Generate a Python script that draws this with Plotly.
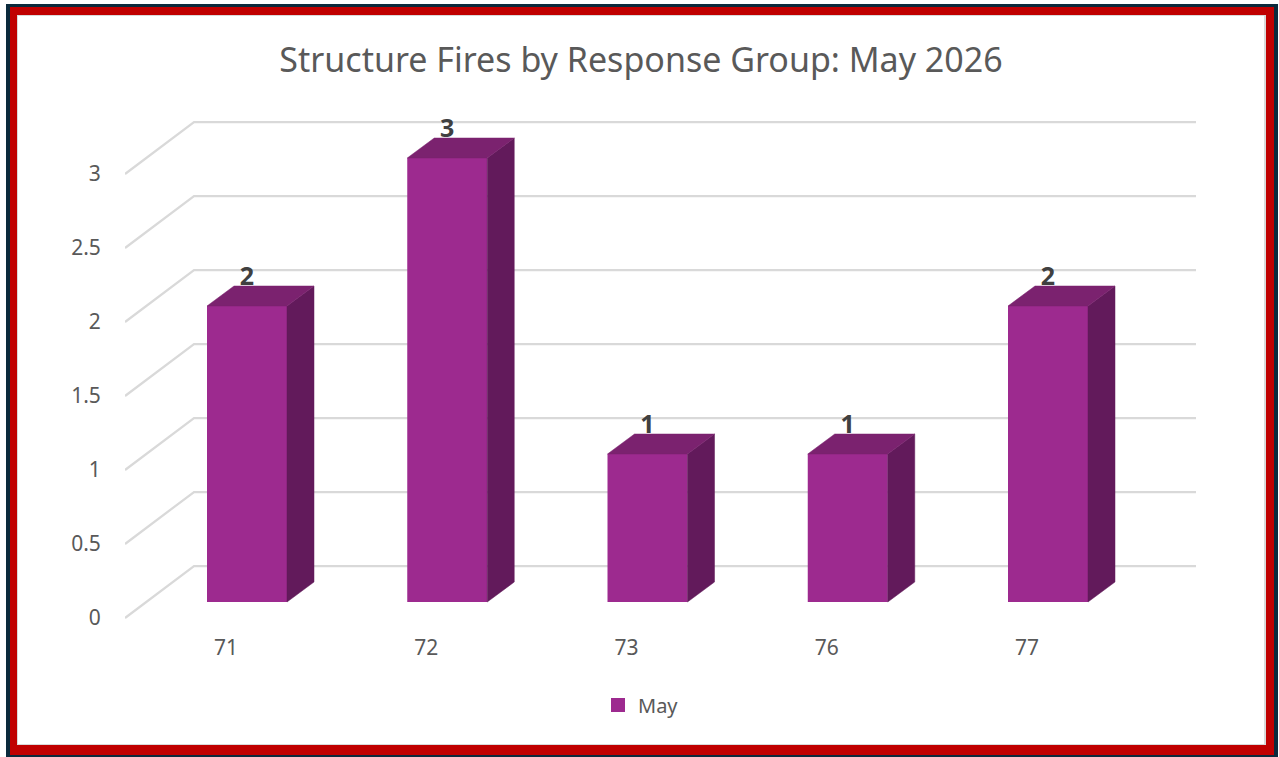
import plotly.graph_objects as go

categories = ["71", "72", "73", "76", "77"]
series_name = "May"
values = [2, 3, 1, 1, 2]
y_ticks = [0, 0.5, 1, 1.5, 2, 2.5, 3]
y_tick_labels = ["0", "0.5", "1", "1.5", "2", "2.5", "3"]
title_text = "Structure Fires by Response Group: May 2026"

W, H = 1279, 757
FRONT, TOP, SIDE = "#9D2A8F", "#7B226F", "#621A5B"
GRID = "#D9D9D9"
TXT = "#595959"
FONT = "Noto Sans"

# pixel geometry of the plot box
PL, PR, PT, PB = 125, 1196, 100, 625
UX, UY = 200.25, 148.0


def xr(origin):
    return [(PL - origin) / UX, (PR - origin) / UX]


def yr(origin):
    return [(origin - PB) / UY, (origin - PT) / UY]


idx = list(range(len(categories)))
fig = go.Figure()

# --- wall layer (x, y): grid lines
wall_dx_left = (125 - 226) / UX
wall_dx_back = (194 - 226) / UX
wall_dx_right = (1196 - 226) / UX
wall_dy = (618 - 566) / UY
for v in y_ticks:
    fig.add_trace(go.Scatter(
        x=[wall_dx_left, wall_dx_back, wall_dx_right],
        y=[v, v + wall_dy, v + wall_dy],
        mode="lines", line=dict(color=GRID, width=2.25),
        showlegend=False, hoverinfo="skip", xaxis="x", yaxis="y", cliponaxis=False))

# --- bar layer (x2, y2)
BAR_W = 80 / UX
DX = 27 / UX
DY = 20 / UY
fig.add_trace(go.Bar(
    x=idx, y=values, width=BAR_W, name=series_name,
    marker=dict(color=FRONT, line=dict(width=0)),
    xaxis="x2", yaxis="y2", hoverinfo="skip", showlegend=False))
fig.add_trace(go.Scatter(
    x=[None], y=[None], name=series_name, mode="markers",
    marker=dict(color=FRONT, size=14, symbol="square", line=dict(width=0)),
    xaxis="x2", yaxis="y2", hoverinfo="skip", showlegend=True))
for i, v in zip(idx, values):
    l, r = i - BAR_W / 2, i + BAR_W / 2
    fig.add_trace(go.Scatter(
        x=[r, r + DX, r + DX, r, r], y=[0, DY, v + DY, v, 0],
        mode="lines", fill="toself", fillcolor=SIDE, line=dict(width=0.5, color=SIDE),
        showlegend=False, hoverinfo="skip", xaxis="x2", yaxis="y2"))
    fig.add_trace(go.Scatter(
        x=[l, r, r + DX, l + DX, l], y=[v, v, v + DY, v + DY, v],
        mode="lines", fill="toself", fillcolor=TOP, line=dict(width=0.5, color=TOP),
        showlegend=False, hoverinfo="skip", xaxis="x2", yaxis="y2"))

fig.add_trace(go.Scatter(
    x=idx, y=[v + 27.5 / UY for v in values],
    text=[str(v) for v in values], mode="text", textposition="middle center",
    textfont=dict(family=FONT, size=25, color="#404040", weight="bold"),
    showlegend=False, hoverinfo="skip", xaxis="x2", yaxis="y2", cliponaxis=False))


def frame(x0, y0, x1, y1, color):
    return dict(type="rect", xref="paper", yref="paper", layer="below",
                x0=x0 / W, x1=x1 / W, y0=1 - y0 / H, y1=1 - y1 / H,
                fillcolor=color, line=dict(width=0))


fig.update_layout(
    autosize=False,
    width=W, height=H, margin=dict(l=0, r=0, t=0, b=0, pad=0, autoexpand=False),
    paper_bgcolor="white", plot_bgcolor="rgba(0,0,0,0)",
    font=dict(family=FONT, color=TXT, size=20),
    title=dict(text=title_text, x=641 / W, y=1 - 60 / H, xanchor="center", yanchor="middle",
               xref="paper", yref="paper",
               font=dict(family=FONT, size=34, color=TXT)),
    shapes=[frame(6, 4, 1278, 757, "#0B2A3C"),
            frame(10, 7, 1274, 755, "#C00000"),
            frame(17, 15, 1266, 745, "#D9D9D9"),
            frame(18, 16, 1264, 744, "#FFFFFF")],
    xaxis=dict(domain=[PL / W, PR / W], range=xr(226), tickmode="array", tickvals=idx,
               ticktext=categories, showgrid=False, zeroline=False, showline=False,
               ticks="outside", ticklen=4, tickcolor="rgba(0,0,0,0)",
               tickfont=dict(family=FONT, size=21, color=TXT), anchor="y"),
    yaxis=dict(domain=[1 - PB / H, 1 - PT / H], range=yr(618), tickmode="array", tickvals=y_ticks,
               ticktext=y_tick_labels, showgrid=False, zeroline=False, showline=False,
               ticks="outside", ticklen=19, tickcolor="rgba(0,0,0,0)",
               tickfont=dict(family=FONT, size=21, color=TXT), anchor="x"),
    xaxis2=dict(overlaying="x", range=xr(247), visible=False, anchor="y2"),
    yaxis2=dict(overlaying="y", range=yr(602), visible=False, anchor="x2"),
    legend=dict(x=641 / W, y=1 - 705 / H, xanchor="center", yanchor="middle",
                orientation="h", bgcolor="rgba(0,0,0,0)",
                font=dict(family=FONT, size=20, color=TXT)),
    hovermode=False,
)

fig.write_html("out.html", config={"displayModeBar": False},
               default_width=f"{W}px", default_height=f"{H}px",
               post_script="document.body.style.margin='0';document.documentElement.style.overflow='hidden';")
